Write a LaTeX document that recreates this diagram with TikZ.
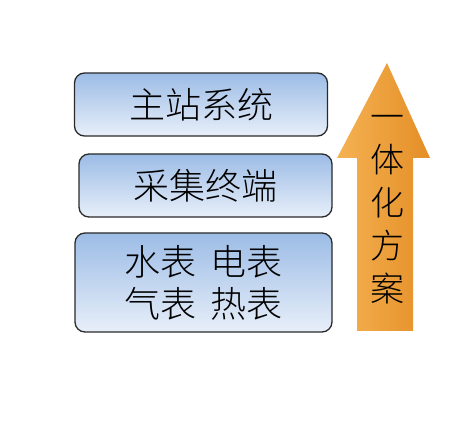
\documentclass[tikz,border=0pt]{standalone}
\usepackage{fontspec}
\setmainfont{Noto Sans CJK SC Light}
\usetikzlibrary{shapes.geometric}
\definecolor{boxtop}{HTML}{9CBCE6}
\definecolor{boxbot}{HTML}{E8EFF9}
\definecolor{boxline}{HTML}{2A2A2A}
\definecolor{arrL}{HTML}{F5B253}
\definecolor{arrR}{HTML}{E48E26}
\tikzset{
  layerbox/.style={draw=boxline, line width=1.3pt, rounded corners=10pt,
    top color=boxtop, bottom color=boxbot, inner sep=0pt, align=center,
    font=\fontsize{36}{42}\selectfont},
}
\begin{document}
\begin{tikzpicture}[x=1pt,y=-1pt]
\useasboundingbox (0,0) rectangle (472,425);
\node[layerbox, minimum width=253pt, minimum height=63pt] (zz) at (201,104.5) {\raisebox{-2pt}{主站系统}};
\node[layerbox, minimum width=253pt, minimum height=63pt] (cj) at (205.5,185.5) {\raisebox{-2pt}{采集终端}};
\node[layerbox, minimum width=257pt, minimum height=99pt] (bb) at (203.5,282.5) {水表\hspace{0.4em}电表\\气表\hspace{0.4em}热表};
\shade[left color=arrL, right color=arrR]
  (387,63) -- (430,158) -- (413,158) -- (413,331) -- (357,331) -- (357,158) -- (337,158) -- cycle;
\node[align=center, inner sep=0pt, font=\fontsize{34}{43}\selectfont] (yt) at (387,210) {一\\体\\化\\方\\案};
\end{tikzpicture}
\end{document}
